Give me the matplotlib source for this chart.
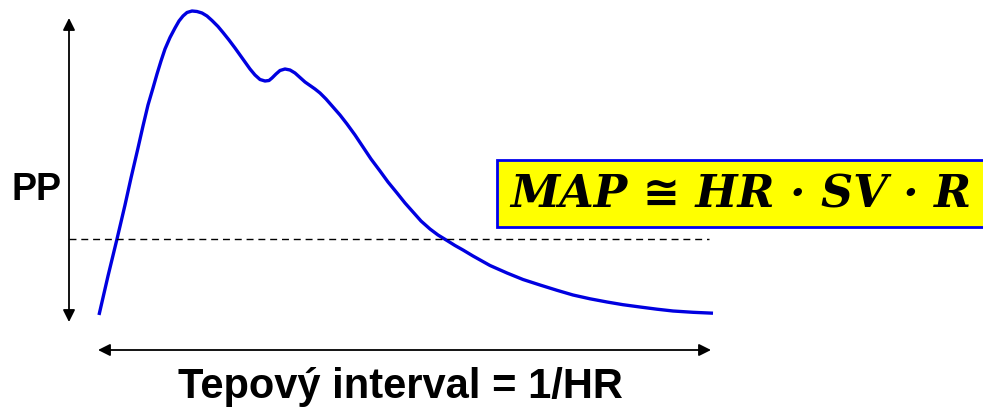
import matplotlib.pyplot as plt
from matplotlib.patches import Rectangle

# waveform (pixel coords, y down)
wave_x = [99, 108, 117, 125, 131, 138, 143, 148, 153, 157, 161, 165, 170, 175, 179,
          183, 187, 192, 197, 202, 207, 212, 218, 223, 229, 235, 240, 245, 250, 255,
          260, 265, 269, 272, 276, 280, 285, 290, 295, 300, 305, 310, 315, 320, 326,
          333, 340, 347, 355, 363, 371, 380, 388, 397, 405, 413, 421, 430, 438, 447,
          455, 463, 473, 490, 507, 523, 540, 557, 573, 590, 607, 623, 640, 657, 673,
          693, 713]
wave_y = [315, 276, 239, 205, 178, 148, 126, 105, 88, 74, 61, 49, 37.5, 28, 21,
          16, 12.5, 11, 11.5, 13, 16, 20.5, 26.5, 32.5, 40, 48, 55, 62, 69, 75,
          79.5, 81, 80.5, 78, 74, 70.5, 69, 70, 73, 77.5, 82, 85.5, 89, 93, 99,
          107, 115, 124, 135, 147, 159, 171, 182, 193, 203, 212, 221, 229, 235, 240.5,
          245.5, 250, 256, 265.5, 273, 279.5, 285, 290.3, 295, 298.8, 302, 304.7, 307, 309.2, 311,
          312.3, 313.2]

pp_label = "PP"
x_label = "Tepový interval = 1/HR"
formula = "MAP ≅ HR · SV · R"
dash_y = 239

fig = plt.figure(figsize=(9.83, 4.12), dpi=100)
ax = fig.add_axes([0, 0, 1, 1])
ax.set_xlim(0, 983)
ax.set_ylim(412, 0)
ax.axis("off")

ax.plot(wave_x, wave_y, color="#0000e0", lw=2.4, solid_capstyle="butt",
        solid_joinstyle="round")
ax.plot([69, 709], [dash_y, dash_y], color="black", lw=1, dashes=(5, 3.5))

arrow = dict(arrowstyle="<|-|>", color="black", lw=1.3, mutation_scale=18,
             shrinkA=0, shrinkB=0)
ax.annotate("", xy=(69, 18), xytext=(69, 322), arrowprops=arrow)
ax.annotate("", xy=(98, 350), xytext=(711, 350), arrowprops=arrow)

ax.text(37, 190, pp_label, fontsize=27, fontweight="bold", family="Liberation Sans",
        ha="center", va="center")
ax.text(400, 387, x_label, fontsize=30, fontweight="bold", family="Liberation Sans",
        ha="center", va="center")

ax.add_patch(Rectangle((497, 160), 500, 67, facecolor="#ffff00", edgecolor="#0000ee",
                       lw=2, clip_on=False))
ax.text(510, 195, formula, fontsize=32, fontweight="bold", style="italic",
        family=["DejaVu Serif", "DejaVu Sans"], ha="left", va="center")

fig.savefig("out.png", dpi=100)
